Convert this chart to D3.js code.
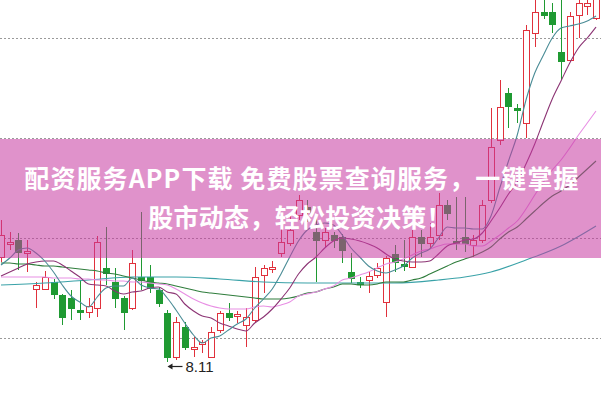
<!DOCTYPE html>
<html>
<head>
<meta charset="utf-8">
<script src="https://cdn.jsdelivr.net/npm/d3@7/dist/d3.min.js"></script>
<style>
  html, body { margin: 0; padding: 0; background: #fff; overflow: hidden; }
  svg { display: block; }
</style>
</head>
<body>
<svg id="chart" width="601" height="399"></svg>
<script>
// Daily K-line: open / close / high / low
const opens  = [9.16,9.29,9.33,9.20,8.84,8.84,8.91,8.78,8.75,8.63,8.61,8.65,9.05,8.91,8.75,8.65,8.96,8.96,8.83,8.60,
                8.16,8.46,8.24,8.29,8.16,8.43,8.60,8.57,8.48,8.53,8.98,9.04,9.20,9.30,9.58,9.66,9.41,9.33,9.38,9.36,
                9.01,8.91,8.93,8.98,8.71,9.19,9.09,9.06,9.36,9.30,9.38,9.68,9.32,9.36,9.28,9.33,9.73,10.33,10.80,10.65,
                10.50,11.40,11.61,11.61,11.21,11.13,11.58,11.67,11.55];
const closes = [9.38,9.31,9.21,9.22,8.88,8.96,8.79,8.56,8.65,8.61,8.67,9.31,9.00,8.75,8.61,9.10,8.93,8.85,8.70,8.16,
                8.51,8.26,8.26,8.31,8.41,8.60,8.56,8.59,8.56,8.96,9.05,9.06,9.31,9.43,9.73,9.61,9.33,9.41,9.33,9.23,
                8.95,8.89,8.97,9.05,9.15,9.11,9.07,9.36,9.30,9.36,9.68,9.60,9.30,9.30,9.33,9.68,10.26,10.66,10.67,10.63,
                11.43,11.61,11.58,11.49,11.12,11.57,11.70,11.70,11.78];
const highs  = [9.53,9.41,9.40,9.33,8.91,9.02,8.94,8.79,8.83,8.93,8.75,9.37,9.46,9.05,8.77,9.23,9.61,9.08,8.86,8.63,
                8.56,8.51,8.36,8.33,8.46,8.62,8.70,8.62,8.65,9.06,9.08,9.12,9.58,9.61,9.78,9.73,9.59,9.45,9.41,9.39,
                9.20,8.96,9.01,9.10,9.17,9.28,9.33,9.43,9.43,9.50,9.80,9.73,9.76,9.76,9.38,9.73,10.65,10.93,10.85,10.69,
                11.48,11.78,11.76,11.70,11.78,11.61,11.78,11.78,11.83];
const lows   = [9.11,9.23,9.03,9.01,8.65,8.83,8.74,8.48,8.53,8.53,8.55,8.56,8.88,8.65,8.43,8.63,8.83,8.80,8.66,8.11,
                8.13,8.23,8.16,8.20,8.15,8.40,8.52,8.50,8.26,8.50,8.80,9.00,9.16,9.27,9.53,9.51,8.91,9.26,9.25,9.10,
                8.90,8.85,8.80,8.95,8.56,9.01,9.02,9.05,9.16,9.25,9.33,9.53,9.23,9.21,9.16,9.30,9.70,10.28,10.45,10.50,
                10.35,11.26,11.54,11.40,10.93,11.11,11.35,11.58,11.53];

// Moving averages, one value per session
const ma5  = [9.08,9.15,9.23,9.25,9.20,9.12,9.01,8.88,8.77,8.71,8.66,8.76,8.85,8.87,8.87,8.95,8.88,8.85,8.84,8.75,
              8.63,8.50,8.38,8.30,8.35,8.37,8.43,8.49,8.54,8.65,8.74,8.84,8.99,9.16,9.32,9.43,9.48,9.50,9.48,9.38,
              9.25,9.16,9.07,9.02,9.00,9.03,9.07,9.15,9.20,9.24,9.35,9.46,9.45,9.45,9.44,9.44,9.57,9.85,10.12,10.38,
              10.73,11.00,11.18,11.35,11.45,11.47,11.49,11.52,11.57];
const ma10 = [8.97,9.01,9.05,9.09,9.11,9.12,9.12,9.08,9.02,8.96,8.89,8.88,8.87,8.82,8.79,8.81,8.82,8.85,8.86,8.81,
              8.79,8.69,8.62,8.57,8.55,8.50,8.47,8.44,8.42,8.50,8.56,8.64,8.74,8.85,8.99,9.09,9.16,9.25,9.32,9.35,
              9.34,9.32,9.29,9.25,9.19,9.14,9.12,9.11,9.11,9.12,9.19,9.27,9.30,9.33,9.34,9.40,9.52,9.65,9.79,9.91,
              10.09,10.29,10.52,10.74,10.92,11.10,11.25,11.35,11.46];
const ma20 = [8.96,8.96,8.96,8.96,8.96,8.96,8.95,8.95,8.95,8.94,8.94,8.93,8.93,8.92,8.92,8.91,8.91,8.90,8.89,8.88,
              8.84,8.79,8.74,8.70,8.67,8.65,8.64,8.64,8.64,8.66,8.67,8.66,8.68,8.71,8.77,8.79,8.81,8.84,8.87,8.93,
              8.95,8.98,9.01,9.05,9.09,9.11,9.14,9.18,9.22,9.24,9.27,9.29,9.29,9.29,9.27,9.27,9.32,9.38,9.45,9.52,
              9.64,9.78,9.91,10.03,10.13,10.25,10.38,10.50,10.62];
const ma30 = [9.10,9.10,9.09,9.09,9.08,9.07,9.07,9.06,9.05,9.04,9.03,9.02,9.00,8.99,8.97,8.95,8.93,8.91,8.90,8.89,
              8.87,8.85,8.83,8.81,8.80,8.79,8.78,8.77,8.76,8.75,8.74,8.74,8.74,8.75,8.77,8.80,8.81,8.84,8.86,8.89,
              8.89,8.88,8.88,8.89,8.91,8.91,8.91,8.93,8.95,8.99,9.03,9.07,9.11,9.14,9.17,9.21,9.26,9.34,9.41,9.46,
              9.54,9.62,9.70,9.77,9.82,9.88,9.96,10.04,10.12];
// Long average, sampled as [session, value]
const ma60 = [[0,8.88],[5,8.90],[10,8.93],[15,8.96],[20,8.96],[25,8.94],[30,8.91],[35,8.90],[40,8.90],
              [45,8.90],[50,8.93],[53,8.96],[56,9.01],[60,9.13],[64,9.27],[68,9.47]];

const gridLevels = [8.35, 9.35, 10.35, 11.35];
const lowMark = { session: 19, label: "8.11" };
const bannerLines = ["配资服务APP下载 免费股票查询服务，一键掌握", "股市动态，轻松投资决策！"];

const W = 601, H = 399;
const svg = d3.select("#chart");

const x = d3.scaleLinear().domain([0, 68]).range([1, 596]);
const y = d3.scaleLinear().domain([7.73, 11.73]).range([400, 0]);
const px = v => Math.round(x(v)) + 0.5;

const UP = "#e0313c", DOWN = "#1f9a32";

// dotted price grid
svg.append("g").selectAll("line").data(gridLevels).join("line")
  .attr("x1", 0).attr("x2", W)
  .attr("y1", d => Math.round(y(d)) + 0.5).attr("y2", d => Math.round(y(d)) + 0.5)
  .attr("stroke", "#9a9a9a").attr("stroke-width", 1).attr("stroke-dasharray", "2,2");

// candles
const bars = d3.range(opens.length).map(i => ({
  i, o: opens[i], c: closes[i], h: highs[i], l: lows[i], up: closes[i] >= opens[i]
}));
const bw = 6;
const cg = svg.append("g");
bars.forEach(b => {
  const cx = px(b.i);
  const top = y(Math.max(b.o, b.c)), bot = y(Math.min(b.o, b.c));
  const col = b.up ? UP : DOWN;
  cg.append("line").attr("x1", cx).attr("x2", cx).attr("y1", y(b.h)).attr("y2", top)
    .attr("stroke", col).attr("stroke-width", 1);
  cg.append("line").attr("x1", cx).attr("x2", cx).attr("y1", bot).attr("y2", y(b.l))
    .attr("stroke", col).attr("stroke-width", 1);
  const bh = Math.max(1, bot - top);
  cg.append("rect")
    .attr("x", cx - bw / 2).attr("y", Math.round(top) + 0.5)
    .attr("width", bw).attr("height", Math.max(1, Math.round(bh)))
    .attr("fill", b.up ? "#fff" : DOWN)
    .attr("stroke", col).attr("stroke-width", 1);
});

// moving-average lines
const line = d3.line().x(d => x(d[0])).y(d => y(d[1])).curve(d3.curveMonotoneX);
const series = [
  { v: ma60, color: "#3aa2a8" },
  { v: ma30.map((d, i) => [i, d]), color: "#2f7d3c" },
  { v: ma20.map((d, i) => [i, d]), color: "#e88fe4" },
  { v: ma10.map((d, i) => [i, d]), color: "#8c3474" },
  { v: ma5.map((d, i) => [i, d]), color: "#4a8c96" }
];
svg.append("g").selectAll("path").data(series).join("path")
  .attr("d", d => line(d.v)).attr("fill", "none")
  .attr("stroke", d => d.color).attr("stroke-width", 1.1);

// low-price marker
const lx = px(lowMark.session), ly = Math.round(y(lows[lowMark.session])) + 4.5;
const mk = svg.append("g");
mk.append("line").attr("x1", lx + 3).attr("x2", lx + 15).attr("y1", ly).attr("y2", ly)
  .attr("stroke", "#222").attr("stroke-width", 1.2);
mk.append("path").attr("d", `M${lx},${ly} l5,-3 l0,6 z`).attr("fill", "#222");
mk.append("text").attr("x", lx + 18).attr("y", ly + 5.5)
  .attr("font-family", "Liberation Sans, Arial, sans-serif").attr("font-size", 15)
  .attr("fill", "#222").text(lowMark.label);

// promotional banner across the chart
svg.append("rect").attr("x", 0).attr("y", 139).attr("width", W).attr("height", 119)
  .attr("fill", "rgb(199,57,160)").attr("fill-opacity", 0.55);
svg.append("g").selectAll("text").data(bannerLines).join("text")
  .attr("x", (d, i) => i === 0 ? 302 : 300).attr("y", (d, i) => 188 + i * 39)
  .attr("text-anchor", "middle")
  .attr("letter-spacing", (d, i) => i === 0 ? 1.1 : 0.3)
  .attr("font-family", "Noto Sans CJK SC, sans-serif").attr("font-weight", 700)
  .attr("font-size", 25).attr("fill", "#fff")
  .text(d => d);
</script>
</body>
</html>
